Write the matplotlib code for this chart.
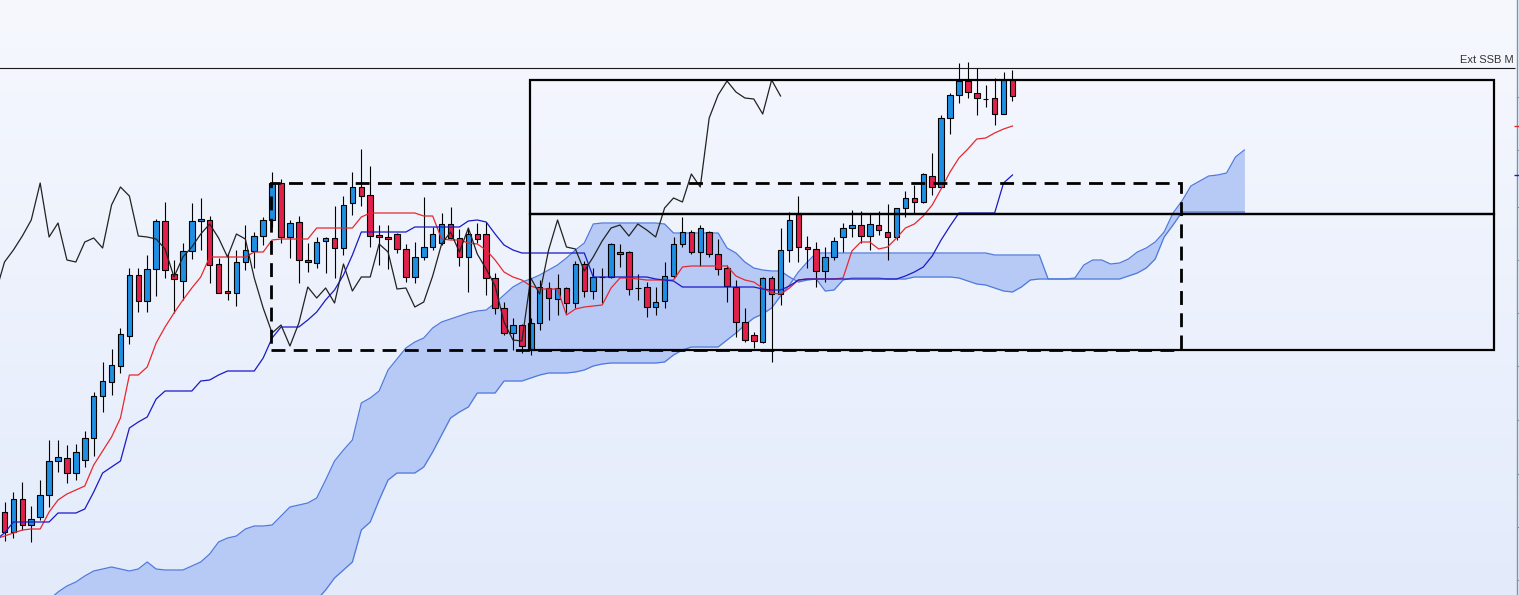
import numpy as np
import matplotlib.pyplot as plt
from matplotlib.patches import Rectangle
from matplotlib.colors import LinearSegmentedColormap

# candles, bar 0..113 (price units of the chart, no scale shown)
opens = [88, 68, 101, 75, 83, 105, 139, 142, 127, 140,
         162, 204, 218, 234, 264, 325, 299, 331, 379, 326,
         319, 349, 379, 380, 336, 309, 307, 338, 349, 364,
         380, 417, 363, 378, 340, 337, 359, 362, 352, 397,
         413, 405, 365, 363, 366, 351, 323, 343, 353, 357,
         376, 362, 343, 366, 366, 322, 292, 267, 275, 250,
         277, 312, 301, 312, 297, 336, 309, 323, 323, 346,
         348, 312, 313, 293, 299, 324, 356, 368, 348, 368,
         346, 332, 313, 278, 265, 258, 322, 306, 350, 387,
         353, 351, 329, 343, 363, 372, 375, 364, 375, 368,
         363, 392, 402, 398, 424, 413, 482, 505, 519, 507,
         501, 502, 486, 520]
highs = [98, 108, 118, 94, 120, 160, 160, 155, 156, 169,
         208, 238, 251, 272, 332, 332, 345, 381, 398, 340,
         357, 397, 402, 384, 342, 347, 350, 375, 368, 383,
         428, 421, 380, 384, 357, 363, 363, 394, 404, 428,
         451, 434, 375, 375, 367, 356, 358, 403, 373, 387,
         393, 371, 371, 377, 378, 327, 298, 282, 276, 282,
         320, 318, 326, 313, 339, 339, 332, 332, 357, 356,
         349, 326, 318, 313, 338, 363, 383, 370, 375, 369,
         361, 335, 320, 292, 268, 323, 324, 372, 388, 404,
         364, 358, 353, 363, 377, 390, 389, 387, 389, 396,
         392, 409, 415, 427, 447, 485, 507, 537, 538, 532,
         515, 522, 528, 530]
lows = [59, 62, 70, 58, 80, 93, 128, 117, 120, 133,
        144, 188, 205, 227, 256, 288, 288, 304, 322, 287,
        300, 341, 350, 317, 307, 300, 294, 330, 332, 355,
        373, 357, 342, 317, 328, 332, 327, 322, 345, 385,
        394, 353, 335, 331, 347, 318, 317, 340, 350, 355,
        361, 334, 308, 357, 305, 286, 265, 250, 247, 245,
        270, 280, 285, 287, 292, 303, 301, 297, 322, 333,
        305, 300, 283, 285, 292, 322, 353, 346, 334, 343,
        325, 298, 263, 258, 252, 257, 238, 295, 338, 338,
        332, 313, 318, 340, 348, 363, 357, 350, 365, 340,
        360, 383, 386, 397, 405, 412, 466, 497, 502, 485,
        493, 475, 486, 499]
closes = [68, 101, 75, 81, 105, 139, 143, 127, 148, 162,
          204, 219, 235, 266, 325, 299, 331, 379, 330, 321,
          349, 379, 381, 335, 307, 307, 338, 350, 364, 380,
          417, 363, 377, 340, 338, 358, 362, 352, 395, 413,
          404, 364, 363, 361, 351, 323, 343, 353, 366, 376,
          362, 343, 366, 361, 322, 292, 267, 275, 254, 277,
          313, 302, 312, 297, 336, 309, 323, 323, 356, 348,
          311, 312, 293, 298, 324, 356, 368, 348, 372, 346,
          331, 314, 278, 260, 259, 322, 306, 350, 380, 353,
          351, 329, 343, 359, 372, 375, 364, 376, 370, 363,
          392, 402, 398, 426, 413, 482, 505, 519, 508, 502,
          501, 486, 520, 504]

# tenkan / kijun, bar -1..113
tenkan = [61, 64, 67, 70, 71, 71, 88, 100, 106, 110,
          114, 135, 149, 163, 182, 225, 225, 233, 257, 273,
          287, 300, 312, 323, 343, 343, 343, 343, 343, 348,
          348, 360, 361, 361, 361, 361, 372, 372, 372, 372,
          372, 383, 387, 387, 387, 387, 387, 387, 384, 384,
          361, 360, 360, 357, 356, 350, 340, 328, 323, 320,
          314, 311, 311, 311, 285, 291, 293, 294, 295, 312,
          322, 322, 321, 320, 320, 320, 320, 333, 334, 334,
          334, 334, 334, 324, 320, 318, 312, 307, 306, 312,
          320, 321, 321, 321, 321, 322, 349, 358, 358, 351,
          353, 362, 372, 376, 384, 395, 411, 428, 442, 451,
          461, 462, 467, 471, 474]
kijun = [60, 67, 78, 78, 78, 78, 78, 87, 87, 87,
         91, 108, 127, 133, 139, 172, 178, 183, 201, 209,
         209, 209, 209, 219, 220, 225, 229, 229, 229, 229,
         242, 262, 273, 273, 273, 280, 288, 300, 310, 325,
         345, 368, 368, 368, 368, 368, 368, 373, 373, 373,
         373, 373, 373, 379, 380, 378, 366, 355, 350, 347,
         347, 347, 347, 347, 347, 347, 347, 323, 323, 323,
         323, 323, 323, 323, 321, 320, 319, 313, 313, 313,
         313, 313, 313, 313, 313, 313, 311, 310, 310, 314,
         320, 321, 321, 321, 321, 321, 321, 321, 321, 321,
         321, 321, 324, 328, 333, 344, 360, 374, 387, 387,
         387, 387, 387, 417, 425]

# cloud spans, bar 5..139
senkou_a = [0, 8, 14, 18, 24, 29, 31, 33, 31, 29,
            31, 38, 31, 30, 30, 30, 34, 38, 46, 58,
            62, 64, 71, 74, 74, 75, 84, 93, 95, 97,
            102, 120, 139, 150, 160, 197, 202, 209, 230, 241,
            252, 258, 262, 272, 278, 281, 284, 287, 289, 290,
            297, 305, 313, 318, 321, 325, 330, 335, 342, 350,
            357, 376, 377, 377, 377, 377, 377, 377, 377, 376,
            367, 367, 367, 367, 367, 367, 352, 347, 338, 332,
            330, 329, 329, 323, 318, 320, 321, 309, 310, 320,
            322, 322, 322, 322, 321, 321, 321, 323, 323, 323,
            323, 323, 322, 319, 316, 315, 312, 309, 308, 313,
            320, 321, 321, 321, 321, 322, 335, 340, 340, 336,
            337, 341, 348, 352, 358, 368, 387, 399, 414, 419,
            424, 425, 427, 443, 450]
senkou_b = [-95, -95, -95, -90, -90, -85, -80, -80, -75, -70,
            -70, -65, -60, -60, -55, -50, -50, -45, -40, -40,
            -35, -30, -30, -25, -20, -18, -15, -12, -10, -5,
            0, 10, 22, 30, 38, 70, 78, 100, 120, 127,
            127, 127, 133, 148, 165, 182, 188, 193, 207, 207,
            207, 219, 219, 219, 222, 225, 227, 227, 227, 228,
            230, 234, 236, 237, 237, 237, 237, 237, 237, 238,
            245, 250, 253, 253, 253, 253, 260, 267, 275, 282,
            286, 292, 304, 315, 328, 338, 347, 347, 347, 347,
            347, 347, 347, 347, 347, 347, 347, 347, 347, 347,
            347, 347, 347, 347, 347, 347, 345, 345, 345, 345,
            345, 345, 321, 321, 321, 321, 321, 321, 321, 321,
            321, 324, 327, 332, 341, 363, 375, 388, 388, 388,
            388, 388, 388, 388, 388]

chikou_shift = 26
ssb_level = 532.5
dashed_box = (29.9, 131.9, 250, 417)
upper_box = (58.9, 167.0, 386, 520.5)
lower_box = (58.9, 167.0, 250, 386)
axis_ticks = [503, 450, 393, 340, 287, 234, 180, 126, 73, 20]

bars = np.arange(len(closes))
line_x = np.arange(-1, len(closes))
cloud_x = np.arange(5, 5 + len(senkou_a))

o = np.array(opens)
c = np.array(closes)
body_lo = np.minimum(o, c)
body_h = np.abs(c - o)
colors = np.where(c > o, '#1f8fe4', np.where(c < o, '#e2204c', 'black'))

fig = plt.figure(figsize=(15.19, 5.95), dpi=100)
fig.patch.set_facecolor('#eef3fd')
ax = fig.add_axes([0, 0, 1517 / 1519, 1])

cmap = LinearSegmentedColormap.from_list('bg', ['#f6f8fe', '#e3ebfb'])
ax.imshow(np.linspace(0, 1, 256).reshape(-1, 1), cmap=cmap, aspect='auto',
          extent=[0, 1, 0, 1], transform=ax.transAxes, zorder=0)

ax.fill_between(cloud_x, senkou_a, senkou_b, color='#b7caf6', lw=0, zorder=1)
ax.plot(cloud_x, senkou_a, color='#5079dc', lw=0.9, zorder=1.5)
ax.plot(cloud_x, senkou_b, color='#5079dc', lw=0.9, zorder=1.5)

ax.vlines(bars, lows, highs, color='black', lw=0.8, zorder=2)
ax.bar(bars, body_h, bottom=body_lo, width=0.62, color=colors,
       edgecolor='black', linewidth=0.8, zorder=3)

ax.plot(line_x, tenkan, color='#e8282e', lw=0.9, zorder=4)
ax.plot(line_x, kijun, color='#1a1ac8', lw=0.9, zorder=4)
ax.plot(bars - chikou_shift, closes, color='#222222', lw=0.9, zorder=4)

x0, x1, y0, y1 = dashed_box
ax.add_patch(Rectangle((x0, y0), x1 - x0, y1 - y0, fill=False, ec='black',
                       lw=2, ls=(0, (5, 3)), zorder=5))
for box in (upper_box, lower_box):
    x0, x1, y0, y1 = box
    ax.add_patch(Rectangle((x0, y0), x1 - x0, y1 - y0, fill=False,
                           ec='black', lw=1.6, zorder=5))

ax.hlines(ssb_level, -0.6, 169.34, color='#1a1a1a', lw=0.8, zorder=5)
ax.text(169.2, ssb_level + 2.5, 'Ext SSB M', ha='right', va='bottom',
        fontsize=8, family='Liberation Sans', color='#333333', zorder=6)

ax.set_xlim(-0.5045, 169.56)
ax.set_ylim(5, 600)

ax.set_xticks([])
ax.set_yticks(axis_ticks)
ax.yaxis.tick_right()
ax.tick_params(axis='y', direction='out', length=3, color='#7f93a8',
               labelright=False, labelleft=False)
for side in ('top', 'left', 'bottom'):
    ax.spines[side].set_visible(False)
ax.spines['right'].set_color('#7f93a8')
ax.spines['right'].set_linewidth(1)

ax.plot([169.56], [tenkan[-1]], marker='_', ms=5, color='#e8282e', clip_on=False, zorder=6)
ax.plot([169.56], [kijun[-1]], marker='_', ms=5, color='#1a1ac8', clip_on=False, zorder=6)

fig.savefig('out.png', dpi=100, facecolor=fig.get_facecolor())
plt.close()
